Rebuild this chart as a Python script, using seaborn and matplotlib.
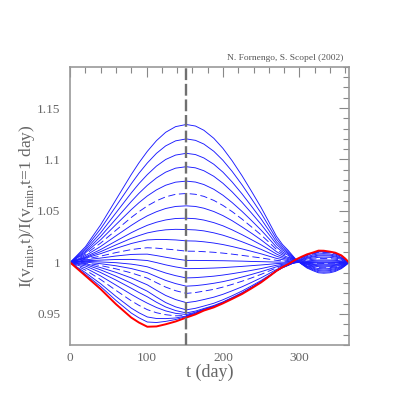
import numpy as np
import pandas as pd
import seaborn as sns
import matplotlib
matplotlib.use('Agg')
import matplotlib.pyplot as plt
from matplotlib.ticker import MultipleLocator, FuncFormatter

days = [0, 20, 40, 60, 80, 90, 101, 113, 125, 138, 152, 164, 175, 188, 200, 212, 225, 237,
        250, 260, 270, 278, 285, 295, 303, 310, 318, 325, 332, 340, 347, 355, 360, 365]

# blue curves, top to bottom at t = 152
c00 = [1, 1.0153, 1.0366, 1.0610, 1.0854, 1.0967, 1.1079, 1.1183, 1.1264, 1.1319, 1.134, 1.1325, 1.1284, 1.1206, 1.1108, 1.0988, 1.0842, 1.0696, 1.0533, 1.0395, 1.0255, 1.0174, 1.0121, 1.0034, 0.9984, 0.9946, 0.9920, 0.9900, 0.9896, 0.9900, 0.9913, 0.9940, 0.9968, 1]
c01 = [1, 1.0137, 1.0328, 1.0546, 1.0764, 1.0866, 1.0966, 1.1060, 1.1132, 1.1181, 1.120, 1.1186, 1.1150, 1.1080, 1.0992, 1.0885, 1.0754, 1.0623, 1.0478, 1.0354, 1.0228, 1.0156, 1.0108, 1.0030, 0.9986, 0.9952, 0.9928, 0.9910, 0.9906, 0.9910, 0.9922, 0.9946, 0.9971, 1]
c02 = [1, 1.0121, 1.0289, 1.0482, 1.0675, 1.0765, 1.0853, 1.0936, 1.1000, 1.1043, 1.106, 1.1048, 1.1015, 1.0954, 1.0877, 1.0782, 1.0666, 1.0550, 1.0422, 1.0313, 1.0201, 1.0138, 1.0095, 1.0027, 0.9987, 0.9958, 0.9936, 0.9921, 0.9917, 0.9921, 0.9931, 0.9952, 0.9975, 1]
c03 = [1, 1.0106, 1.0254, 1.0423, 1.0592, 1.0671, 1.0749, 1.0821, 1.0877, 1.0916, 1.093, 1.0919, 1.0891, 1.0837, 1.0769, 1.0686, 1.0584, 1.0483, 1.0370, 1.0274, 1.0177, 1.0121, 1.0084, 1.0023, 0.9989, 0.9963, 0.9944, 0.9930, 0.9927, 0.9930, 0.9940, 0.9958, 0.9978, 1]
c04 = [1, 1.0094, 1.0221, 1.0368, 1.0513, 1.0580, 1.0646, 1.0705, 1.0750, 1.0780, 1.079, 1.0781, 1.0757, 1.0711, 1.0653, 1.0582, 1.0496, 1.0410, 1.0314, 1.0233, 1.0150, 1.0103, 1.0071, 1.0020, 0.9991, 0.9968, 0.9953, 0.9941, 0.9938, 0.9941, 0.9949, 0.9964, 0.9981, 1]
c05 = [1, 1.0080, 1.0189, 1.0313, 1.0437, 1.0493, 1.0549, 1.0599, 1.0637, 1.0662, 1.067, 1.0662, 1.0642, 1.0603, 1.0554, 1.0494, 1.0421, 1.0348, 1.0267, 1.0198, 1.0127, 1.0087, 1.0060, 1.0017, 0.9992, 0.9973, 0.9960, 0.9950, 0.9948, 0.9950, 0.9956, 0.9970, 0.9984, 1]
c06 = [1, 1.0066, 1.0156, 1.0259, 1.0360, 1.0407, 1.0453, 1.0493, 1.0524, 1.0544, 1.055, 1.0544, 1.0527, 1.0495, 1.0455, 1.0406, 1.0345, 1.0286, 1.0219, 1.0162, 1.0105, 1.0072, 1.0050, 1.0014, 0.9993, 0.9978, 0.9967, 0.9959, 0.9957, 0.9959, 0.9964, 0.9975, 0.9987, 1]
c07 = [1, 1.0054, 1.0126, 1.0208, 1.0289, 1.0325, 1.0361, 1.0391, 1.0413, 1.0427, 1.043, 1.0425, 1.0412, 1.0387, 1.0356, 1.0317, 1.0270, 1.0223, 1.0171, 1.0127, 1.0082, 1.0056, 1.0039, 1.0011, 0.9995, 0.9983, 0.9974, 0.9968, 0.9966, 0.9968, 0.9972, 0.9981, 0.9990, 1]
c08 = [1, 1.0047, 1.0105, 1.0171, 1.0234, 1.0261, 1.0287, 1.0305, 1.0317, 1.0322, 1.032, 1.0316, 1.0307, 1.0288, 1.0265, 1.0236, 1.0201, 1.0166, 1.0127, 1.0094, 1.0061, 1.0042, 1.0029, 1.0008, 0.9996, 0.9987, 0.9981, 0.9976, 0.9975, 0.9976, 0.9979, 0.9986, 0.9992, 1]
c09 = [1, 1.0041, 1.0086, 1.0137, 1.0184, 1.0202, 1.0219, 1.0223, 1.0223, 1.0219, 1.021, 1.0208, 1.0201, 1.0189, 1.0174, 1.0155, 1.0132, 1.0109, 1.0084, 1.0062, 1.0040, 1.0027, 1.0019, 1.0005, 0.9997, 0.9992, 0.9987, 0.9984, 0.9984, 0.9984, 0.9986, 0.9991, 0.9995, 1]
c10 = [1, 1.0032, 1.0062, 1.0096, 1.0125, 1.0135, 1.0143, 1.0139, 1.0131, 1.0122, 1.011, 1.0109, 1.0105, 1.0099, 1.0091, 1.0081, 1.0069, 1.0057, 1.0044, 1.0032, 1.0021, 1.0014, 1.0010, 1.0003, 0.9999, 0.9996, 0.9993, 0.9992, 0.9991, 0.9992, 0.9993, 0.9995, 0.9997, 1]
c11 = [1, 1.0025, 1.0043, 1.0063, 1.0078, 1.0080, 1.0081, 1.0067, 1.0051, 1.0035, 1.002, 1.0020, 1.0019, 1.0018, 1.0017, 1.0015, 1.0013, 1.0010, 1.0008, 1.0006, 1.0004, 1.0003, 1.0002, 1.0001, 1.0000, 0.9999, 0.9999, 0.9998, 0.9998, 0.9998, 0.9999, 0.9999, 1.0000, 1]
c12 = [1, 1.0017, 1.0023, 1.0029, 1.0030, 1.0025, 1.0019, 0.9999, 0.9977, 0.9957, 0.994, 0.9941, 0.9943, 0.9946, 0.9950, 0.9956, 0.9962, 0.9969, 0.9976, 0.9982, 0.9989, 0.9992, 0.9995, 0.9998, 1.0001, 1.0002, 1.0004, 1.0005, 1.0005, 1.0005, 1.0004, 1.0003, 1.0001, 1]
c13 = [1, 1.0011, 1.0005, 0.9998, 0.9984, 0.9973, 0.9958, 0.9928, 0.9898, 0.9872, 0.985, 0.9853, 0.9859, 0.9867, 0.9878, 0.9891, 0.9907, 0.9923, 0.9941, 0.9957, 0.9973, 0.9982, 0.9988, 0.9998, 1.0004, 1.0009, 1.0012, 1.0015, 1.0015, 1.0015, 1.0013, 1.0009, 1.0005, 1]
c14 = [1, 1.0004, 0.9988, 0.9968, 0.9941, 0.9922, 0.9901, 0.9863, 0.9826, 0.9795, 0.977, 0.9775, 0.9784, 0.9798, 0.9814, 0.9834, 0.9859, 0.9883, 0.9911, 0.9934, 0.9958, 0.9973, 0.9982, 0.9998, 1.0008, 1.0015, 1.0020, 1.0024, 1.0025, 1.0024, 1.0021, 1.0015, 1.0008, 1]
c15 = [1, 0.9997, 0.9970, 0.9938, 0.9899, 0.9875, 0.9848, 0.9804, 0.9761, 0.9726, 0.970, 0.9708, 0.9722, 0.9739, 0.9761, 0.9787, 0.9818, 0.9849, 0.9885, 0.9916, 0.9947, 0.9966, 0.9979, 1.0000, 1.0014, 1.0024, 1.0031, 1.0037, 1.0038, 1.0037, 1.0032, 1.0023, 1.0012, 1]
c16 = [1, 0.9990, 0.9950, 0.9904, 0.9850, 0.9818, 0.9783, 0.9730, 0.9680, 0.9640, 0.961, 0.9622, 0.9640, 0.9663, 0.9691, 0.9725, 0.9764, 0.9805, 0.9851, 0.9891, 0.9932, 0.9957, 0.9974, 1.0002, 1.0020, 1.0033, 1.0043, 1.0050, 1.0052, 1.0050, 1.0043, 1.0031, 1.0017, 1]
c17 = [1, 0.9980, 0.9928, 0.9867, 0.9799, 0.9761, 0.9721, 0.9664, 0.9611, 0.9569, 0.954, 0.9555, 0.9577, 0.9604, 0.9638, 0.9677, 0.9723, 0.9771, 0.9825, 0.9872, 0.9921, 0.9950, 0.9971, 1.0005, 1.0026, 1.0042, 1.0054, 1.0063, 1.0065, 1.0063, 1.0054, 1.0039, 1.0021, 1]
c18 = [1, 0.9966, 0.9902, 0.9829, 0.9750, 0.9709, 0.9667, 0.9614, 0.9568, 0.9533, 0.951, 0.9528, 0.9553, 0.9582, 0.9617, 0.9659, 0.9707, 0.9758, 0.9815, 0.9865, 0.9917, 0.9949, 0.9971, 1.0008, 1.0031, 1.0049, 1.0062, 1.0072, 1.0074, 1.0072, 1.0062, 1.0045, 1.0024, 1]
c19 = [1, 0.9947, 0.9869, 0.9780, 0.9690, 0.9648, 0.9605, 0.9563, 0.9530, 0.9506, 0.9495, 0.9517, 0.9546, 0.9575, 0.9612, 0.9654, 0.9702, 0.9754, 0.9812, 0.9864, 0.9917, 0.9951, 0.9974, 1.0013, 1.0039, 1.0058, 1.0073, 1.0083, 1.0086, 1.0083, 1.0072, 1.0052, 1.0028, 1]
c20 = [1, 0.9926, 0.9834, 0.9729, 0.9628, 0.9584, 0.9542, 0.9512, 0.9493, 0.9482, 0.9485, 0.9511, 0.9543, 0.9573, 0.9610, 0.9652, 0.9701, 0.9753, 0.9811, 0.9864, 0.9918, 0.9953, 0.9978, 1.0019, 1.0046, 1.0067, 1.0083, 1.0095, 1.0098, 1.0095, 1.0082, 1.0059, 1.0032, 1]
c21 = [1, 0.9902, 0.9793, 0.9670, 0.9557, 0.9512, 0.9471, 0.9456, 0.9455, 0.9461, 0.948, 0.9508, 0.9541, 0.9572, 0.9610, 0.9652, 0.9700, 0.9752, 0.9811, 0.9864, 0.9919, 0.9954, 0.9980, 1.0022, 1.0050, 1.0072, 1.0088, 1.0101, 1.0104, 1.0101, 1.0087, 1.0063, 1.0035, 1]
c22 = [1, 0.9885, 0.9766, 0.9631, 0.9509, 0.9463, 0.9422, 0.9417, 0.9428, 0.9446, 0.9475, 0.9505, 0.9539, 0.9570, 0.9608, 0.9651, 0.9699, 0.9751, 0.9810, 0.9864, 0.9919, 0.9955, 0.9981, 1.0025, 1.0053, 1.0076, 1.0093, 1.0105, 1.0109, 1.0105, 1.0091, 1.0066, 1.0036, 1]
red = [1, 0.9871, 0.9741, 0.9595, 0.9465, 0.9417, 0.9376, 0.9379, 0.9400, 0.9427, 0.9465, 0.9496, 0.9533, 0.9564, 0.9603, 0.9646, 0.9694, 0.9747, 0.9807, 0.9862, 0.9918, 0.9955, 0.9982, 1.0027, 1.0056, 1.0079, 1.0097, 1.0115, 1.0114, 1.0105, 1.0095, 1.0069, 1.0038, 1]

blue = [c00, c01, c02, c03, c04, c05, c06, c07, c08, c09, c10, c11,
        c12, c13, c14, c15, c16, c17, c18, c19, c20, c21, c22]
dashed = [5, 10, 15, 20]   # every fifth curve is dashed
t_mark = 152               # vertical dashed line

xticks = [0, 100, 200, 300]
yticks = [0.95, 1.0, 1.05, 1.1, 1.15]

sns.set_style('white')
plt.rcParams['font.family'] = ['Liberation Serif', 'DejaVu Serif']
plt.rcParams['mathtext.fontset'] = 'custom'
plt.rcParams['mathtext.rm'] = 'Liberation Serif'
grey = '#666666'

fig = plt.figure(figsize=(4.15, 4.15), dpi=100)
ax = fig.add_axes([0.169, 0.169, 0.672, 0.670])

for i, c in enumerate(blue):
    ls = (0, (8, 4)) if i in dashed else '-'
    sns.lineplot(x=days, y=c, ax=ax, color='#1a1aff', linewidth=0.65, linestyle=ls)
sns.lineplot(x=days, y=red, ax=ax, color='red', linewidth=1.4)

ax.axvline(t_mark, color='#707070', linewidth=1.7, linestyle=(0, (5, 1.6)), zorder=5)

ax.set_xlim(0, 365)
ax.set_ylim(0.92, 1.19)
ax.set_xticks(xticks)
ax.set_yticks(yticks)
ax.xaxis.set_minor_locator(MultipleLocator(20))
ax.yaxis.set_minor_locator(MultipleLocator(0.01))
ax.yaxis.set_major_formatter(FuncFormatter(lambda v, p: '%g' % round(v, 3)))

ax.tick_params(which='both', direction='in', top=True, right=True, color='#888888',
               labelcolor=grey, labelsize=9.5)
ax.tick_params(which='major', length=7, width=0.8)
ax.tick_params(which='minor', length=4, width=0.8)
ax.tick_params(axis='x', pad=5)
ax.tick_params(axis='y', pad=7)
for s in ax.spines.values():
    s.set_color('#999999')
    s.set_linewidth(1.2)

ax.set_xlabel('t (day)', fontsize=13, color=grey, labelpad=0)
ax.set_ylabel(r'I(v$_{\rm min}$,t)/I(v$_{\rm min}$,t=1 day)', fontsize=12.5, color=grey, labelpad=0)
fig.text(343 / 415, 1 - 58 / 415, 'N. Fornengo, S. Scopel (2002)', ha='right', va='center',
         fontsize=6.8, color='#555555')

fig.savefig('out.png', dpi=100)
